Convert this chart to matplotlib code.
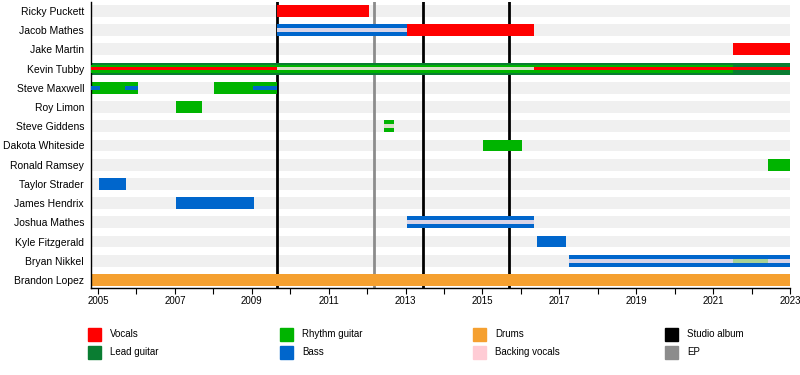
import matplotlib.pyplot as plt
from matplotlib.patches import Rectangle
from matplotlib.ticker import MultipleLocator

plt.rcParams['font.family'] = ['Liberation Sans', 'DejaVu Sans']

# band members, top to bottom
members = ["Ricky Puckett", "Jacob Mathes", "Jake Martin", "Kevin Tubby", "Steve Maxwell",
           "Roy Limon", "Steve Giddens", "Dakota Whiteside", "Ronald Ramsey", "Taylor Strader",
           "James Hendrix", "Joshua Mathes", "Kyle Fitzgerald", "Bryan Nikkel", "Brandon Lopez"]

role_colors = {
    "Vocals": "#ff0000",
    "Lead guitar": "#0a7d32",
    "Rhythm guitar": "#00b400",
    "Bass": "#0066cc",
    "Drums": "#f5a030",
    "Backing vocals": "#ffccd5",
}
# inner stripes drawn lighter / see-through where they sit on another colour
inner_colors = {"Backing vocals": "#ffe8ec", "Rhythm guitar": "#c8e68c"}

start_year = 2004.82
end_year = 2023.0

# (member, role, start, end)
main_bars = [
    ("Ricky Puckett", "Vocals", 2009.66, 2012.05),
    ("Jacob Mathes", "Bass", 2009.66, 2013.04),
    ("Jacob Mathes", "Vocals", 2013.04, 2016.34),
    ("Jake Martin", "Vocals", 2021.52, 2023.0),
    ("Kevin Tubby", "Lead guitar", 2004.82, 2023.0),
    ("Steve Maxwell", "Rhythm guitar", 2004.82, 2006.04),
    ("Steve Maxwell", "Rhythm guitar", 2008.02, 2009.66),
    ("Roy Limon", "Rhythm guitar", 2007.03, 2007.7),
    ("Steve Giddens", "Rhythm guitar", 2012.44, 2012.7),
    ("Dakota Whiteside", "Rhythm guitar", 2015.02, 2016.03),
    ("Ronald Ramsey", "Rhythm guitar", 2022.43, 2023.0),
    ("Taylor Strader", "Bass", 2005.03, 2005.73),
    ("James Hendrix", "Bass", 2007.03, 2009.06),
    ("Joshua Mathes", "Bass", 2013.04, 2016.34),
    ("Kyle Fitzgerald", "Bass", 2016.42, 2017.17),
    ("Bryan Nikkel", "Bass", 2017.25, 2023.0),
    ("Brandon Lopez", "Drums", 2004.82, 2023.0),
]
mid_bars = [
    ("Kevin Tubby", "Rhythm guitar", 2004.82, 2021.52),
]
inner_bars = [
    ("Jacob Mathes", "Backing vocals", 2009.66, 2013.04),
    ("Kevin Tubby", "Vocals", 2004.82, 2009.66),
    ("Kevin Tubby", "Backing vocals", 2009.66, 2016.34),
    ("Kevin Tubby", "Vocals", 2016.34, 2023.0),
    ("Steve Maxwell", "Bass", 2004.82, 2005.05),
    ("Steve Maxwell", "Bass", 2005.7, 2006.04),
    ("Steve Maxwell", "Bass", 2009.03, 2009.66),
    ("Steve Giddens", "Backing vocals", 2012.44, 2012.7),
    ("Joshua Mathes", "Backing vocals", 2013.04, 2016.34),
    ("Bryan Nikkel", "Backing vocals", 2017.25, 2021.52),
    ("Bryan Nikkel", "Rhythm guitar", 2021.52, 2022.43),
    ("Bryan Nikkel", "Backing vocals", 2022.43, 2023.0),
]

studio_albums = [2009.66, 2013.45, 2015.69]
eps = [2012.18]

legend_items = [("Vocals", "#ff0000"), ("Lead guitar", "#0a7d32"),
                ("Rhythm guitar", "#00b400"), ("Bass", "#0066cc"),
                ("Drums", "#f5a030"), ("Backing vocals", "#ffccd5"),
                ("Studio album", "#000000"), ("EP", "#8c8c8c")]

fig = plt.figure(figsize=(8, 3.75), dpi=100)
ax = fig.add_axes([91 / 800, 1 - 288 / 375, 699 / 800, 286 / 375])

row = {m: i for i, m in enumerate(members)}

# grey background stripes
ax.barh(range(len(members)), end_year - start_year, left=start_year,
        height=0.62, color="#f0f0f0", zorder=0)

# release lines
for x in studio_albums:
    ax.axvline(x, color="black", lw=2, zorder=1)
for x in eps:
    ax.axvline(x, color="#8c8c8c", lw=2, zorder=1)

for m, role, s, e in main_bars:
    ax.barh(row[m], e - s, left=s, height=0.62, color=role_colors[role], zorder=2)
for m, role, s, e in mid_bars:
    ax.barh(row[m], e - s, left=s, height=0.42, color=role_colors[role], zorder=3)
for m, role, s, e in inner_bars:
    c = role_colors[role]
    a = 1.0
    if role in inner_colors:
        c = inner_colors[role]
        a = 0.85
    ax.barh(row[m], e - s, left=s, height=0.19, color=c, alpha=a, zorder=4)

ax.set_xlim(start_year, end_year)
ax.set_ylim(len(members) - 1 + 0.42, -0.47)
ax.set_yticks(range(len(members)))
ax.set_yticklabels(members, fontsize=7.5)
ax.tick_params(axis="y", length=0, pad=5)

ax.xaxis.set_major_locator(MultipleLocator(2, offset=1))
ax.xaxis.set_minor_locator(MultipleLocator(1))
ax.tick_params(axis="x", which="both", length=4, width=0.8, labelsize=7, pad=2)

for side in ["top", "right"]:
    ax.spines[side].set_visible(False)
ax.spines["left"].set_linewidth(1)
ax.spines["bottom"].set_linewidth(1)
ax.set_facecolor("white")

# legend, laid out in 4 columns of 2
col_x = [88, 280, 473, 665]
row_y = [334, 352]
for i, (label, color) in enumerate(legend_items):
    cx = col_x[i // 2]
    cy = row_y[i % 2]
    fig.add_artist(Rectangle((cx / 800, 1 - (cy + 6.5) / 375), 13 / 800, 13 / 375,
                             transform=fig.transFigure, color=color))
    fig.text((cx + 22) / 800, 1 - cy / 375, label, fontsize=7, va="center", ha="left")

fig.savefig("out.png", dpi=100)
